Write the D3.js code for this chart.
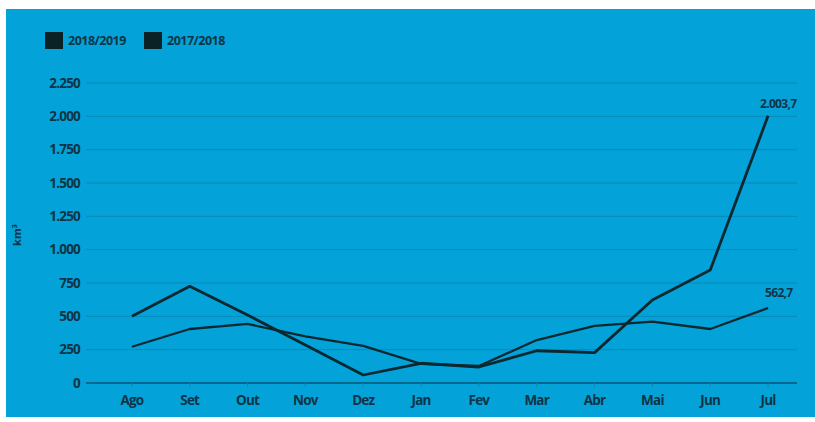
<!DOCTYPE html>
<html>
<head>
<meta charset="utf-8">
<script src="https://cdn.jsdelivr.net/npm/d3@7"></script>
<style>
  html, body { margin: 0; padding: 0; background: #ffffff; }
  svg { display: block; }
  text { font-family: "Open Sans", "Noto Sans", sans-serif; }
</style>
</head>
<body>
<svg id="chart" width="815" height="422"></svg>
<script>
// Monthly volumes (km³), August to July
const months = ["Ago", "Set", "Out", "Nov", "Dez", "Jan", "Fev", "Mar", "Abr", "Mai", "Jun", "Jul"];
const season1819 = [500, 725, 510, 285, 60, 148, 120, 242, 228, 622, 848, 2003.7];
const season1718 = [272, 405, 443, 350, 278, 143, 128, 322, 428, 460, 405, 562.7];
const seriesNames = ["2018/2019", "2017/2018"];
const yTicks = [0, 250, 500, 750, 1000, 1250, 1500, 1750, 2000, 2250];

const bg = "#03a3da";
const ink = "#0e3446";
const lineColor = "#0b2830";

const svg = d3.select("#chart");
svg.append("rect").attr("x", 6).attr("y", 9).attr("width", 809).attr("height", 408).attr("fill", bg);

const x = d3.scaleBand().domain(months).range([103, 797]);
const y = d3.scaleLinear().domain([0, 2250]).range([383, 83]);

const fmt = v => d3.format(",")(v).replace(/,/g, ".");

// gridlines
svg.append("g").selectAll("line").data(yTicks.filter(d => d > 0)).join("line")
  .attr("x1", 86).attr("x2", 797)
  .attr("y1", d => y(d)).attr("y2", d => y(d))
  .attr("stroke", "#0889b6").attr("stroke-width", 1);

// y axis labels
const yAxis = d3.axisLeft(y).tickValues(yTicks).tickSize(0).tickPadding(0).tickFormat(fmt);
const gy = svg.append("g").attr("transform", "translate(80,0)").call(yAxis);
gy.select(".domain").remove();
gy.selectAll("text").attr("fill", ink).attr("font-size", 13.5).attr("font-weight", 700)
  .attr("letter-spacing", "-0.8px");

// baseline
svg.append("line").attr("x1", 86).attr("x2", 797).attr("y1", y(0)).attr("y2", y(0))
  .attr("stroke", "#0a5572").attr("stroke-width", 1.6);

// x axis
const xAxis = d3.axisBottom(x).tickSize(4).tickPadding(8);
const gx = svg.append("g").attr("transform", `translate(0,${y(0)})`).call(xAxis);
gx.select(".domain").remove();
gx.selectAll("line").attr("stroke", "#0889b6");
gx.selectAll("text").attr("fill", ink).attr("font-size", 13.5).attr("font-weight", 700)
  .attr("letter-spacing", "-0.8px");

// y title
svg.append("text").attr("transform", "translate(21,235) rotate(-90)")
  .attr("text-anchor", "middle").attr("fill", ink).attr("font-size", 11).attr("font-weight", 700)
  .text("km³");

const line = d3.line().x((d, i) => x(months[i]) + x.bandwidth() / 2).y(d => y(d));

[season1718, season1819].forEach((s, k) => {
  svg.append("path").datum(s).attr("d", line).attr("fill", "none")
    .attr("stroke", lineColor).attr("stroke-width", k === 1 ? 2.8 : 2.3)
    .attr("stroke-linejoin", "round");
});

// end labels
[[season1819, -8, -8], [season1718, -11, -3]].forEach(([s, dy, dx]) => {
  const last = s[s.length - 1];
  svg.append("text")
    .attr("x", x(months[11]) + x.bandwidth() / 2 + dx)
    .attr("y", y(last) + dy)
    .attr("fill", ink).attr("font-size", 12).attr("font-weight", 700)
    .attr("letter-spacing", "-0.7px")
    .text(d3.format(",.1f")(last).replace(/,/g, "#").replace(".", ",").replace(/#/g, "."));
});

// legend
const legend = svg.append("g");
const lx = [45, 144];
seriesNames.forEach((n, i) => {
  legend.append("rect").attr("x", lx[i]).attr("y", 32).attr("width", 18).attr("height", 17).attr("fill", "#0a2226");
  legend.append("text").attr("x", lx[i] + 23).attr("y", 45).attr("fill", ink)
    .attr("font-size", 12.5).attr("font-weight", 700).attr("letter-spacing", "-0.5px").text(n);
});
</script>
</body>
</html>
